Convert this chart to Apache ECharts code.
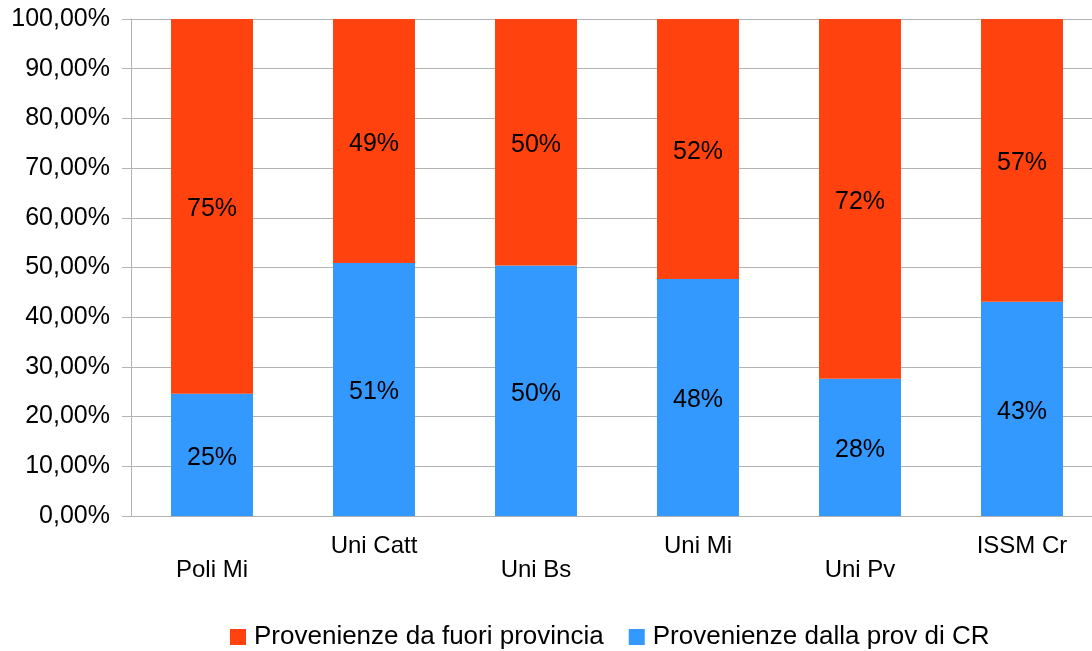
<!DOCTYPE html>
<html><head><meta charset="utf-8">
<script src="https://cdn.jsdelivr.net/npm/echarts@6/dist/echarts.min.js"></script>
<style>html,body{margin:0;padding:0;background:#fff}#c{width:1092px;height:651px}</style>
</head><body><div id="c"></div>
<script>
const categories = ['Poli Mi', 'Uni Catt', 'Uni Bs', 'Uni Mi', 'Uni Pv', 'ISSM Cr'];
const localShare = [24.6, 50.9, 50.4, 47.7, 27.6, 43.1];
const outsideShare = [75.4, 49.1, 49.6, 52.3, 72.4, 56.9];
const seriesNames = ['Provenienze dalla prov di CR', 'Provenienze da fuori provincia'];
const legendOrder = ['Provenienze da fuori provincia', 'Provenienze dalla prov di CR'];

const FONT = '"Liberation Sans", Arial, sans-serif';
const chart = echarts.init(document.getElementById('c'), null, {renderer: 'canvas'});
const lbl = {show: true, position: 'inside', offset: [0, 3], fontFamily: FONT, fontSize: 25, color: '#000',
  formatter: p => Math.round(p.value) + '%'};
chart.setOption({
  animation: false,
  backgroundColor: '#fff',
  grid: {left: 131, top: 19, width: 972, height: 497, containLabel: false, outerBoundsMode: 'none'},
  legend: {
    data: legendOrder, left: 225, top: 619, itemWidth: 16, itemHeight: 16, itemGap: 25,
    icon: 'rect', textStyle: {fontFamily: FONT, fontSize: 26, color: '#000', padding: [0, 0, 0, 3]}
  },
  xAxis: {
    type: 'category', data: categories,
    axisLine: {lineStyle: {color: '#b3b3b3'}},
    axisTick: {length: 9, lineStyle: {color: '#b3b3b3'}},
    axisLabel: {interval: 0, margin: 18, fontFamily: FONT, fontSize: 24, color: '#000', lineHeight: 24,
      formatter: (v, i) => (i % 2 === 0 ? '\n' + v : v)}
  },
  yAxis: {
    type: 'value', min: 0, max: 100, interval: 10,
    axisLine: {show: true, lineStyle: {color: '#b3b3b3'}},
    axisTick: {show: true, length: 9, inside: false, lineStyle: {color: '#b3b3b3'}},
    splitLine: {lineStyle: {color: '#b3b3b3'}},
    axisLabel: {margin: 21, fontFamily: FONT, fontSize: 25, color: '#000',
      formatter: v => v.toFixed(2).replace('.', ',') + '%'}
  },
  series: [
    {name: seriesNames[0], type: 'bar', stack: 's', data: localShare, barWidth: '50.6%',
      itemStyle: {color: '#3399ff'}, label: lbl},
    {name: seriesNames[1], type: 'bar', stack: 's', data: outsideShare, barWidth: '50.6%',
      itemStyle: {color: '#ff420e'}, label: lbl}
  ]
});
</script></body></html>
